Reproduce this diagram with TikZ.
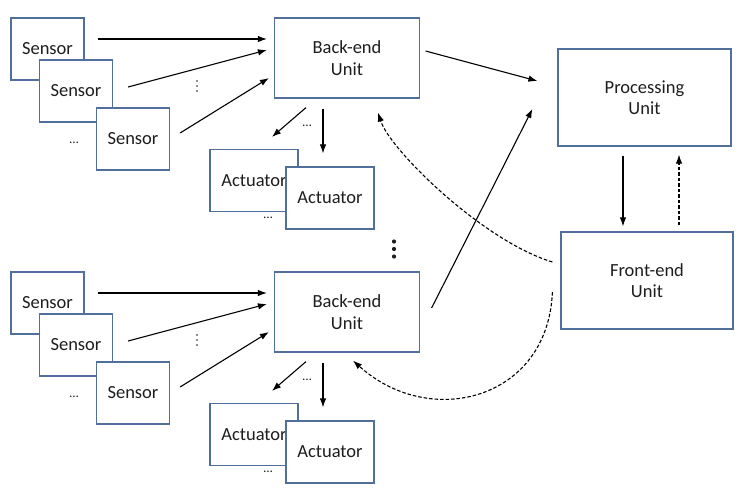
\documentclass[tikz,border=0pt]{standalone}
\usepackage{fontspec}
\setmainfont{Carlito}
\usetikzlibrary{arrows.meta}
\definecolor{boxc}{RGB}{80,112,155}
\definecolor{txt}{RGB}{30,30,30}
\begin{document}
\begin{tikzpicture}[x=1pt,y=-1pt,
  box/.style={draw=boxc,line width=1.2pt,fill=white,inner sep=0pt,text=txt,
    font=\fontsize{18.5}{21.5}\selectfont,align=center},
  sensorbox/.style={box,minimum width=73pt,minimum height=62pt},
  actbox/.style={box,minimum width=88pt,minimum height=62pt},
  bebox/.style={box,minimum width=145pt,minimum height=80pt},
  bigbox/.style={box,minimum width=173pt,minimum height=97pt},
  arr/.style={line width=1.1pt,-{Latex[length=9pt,width=6.5pt]}},
  darr/.style={arr,dash pattern=on 3.5pt off 2pt},
  dots/.style={text=txt,font=\fontsize{13}{13}\selectfont,inner sep=0pt}]
\useasboundingbox (0,0) rectangle (745,493);
\fill[white] (0,0) rectangle (745,493);

\foreach \g/\dy in {t/0,b/254}{
  \begin{scope}[yshift=-\dy pt]
    \node[sensorbox] (s1\g) at (47.5,49) {Sensor};
    \node[sensorbox] (s2\g) at (76,91) {Sensor};
    \node[sensorbox] (s3\g) at (133,139) {Sensor};
    \node[dots] (d1\g) at (74,143) {\dots};
    \node[bebox] (be\g) at (347,58) {Back-end\\Unit};
    \fill[txt] (197,81) circle (0.9) (197,86) circle (0.9) (197,91) circle (0.9);
    \node[actbox] (a1\g) at (254,180.5) {Actuator};
    \node[actbox] (a2\g) at (330,198) {Actuator};
    \node[dots] (d3\g) at (307,126) {\dots};
    \node[dots] (d4\g) at (268,218) {\dots};
    \draw[arr] ([shift={(13,-10)}]s1\g.east) -- ([shift={(-7,-19)}]be\g.west);
    \draw[arr] ([shift={(15,-4)}]s2\g.east) -- ([shift={(-7,-8)}]be\g.west);
    \draw[arr] ([shift={(10,-6)}]s3\g.east) -- ([shift={(-5,20)}]be\g.west);
    \draw[arr] ([shift={(-41,9)}]be\g.south) -- ([shift={(18,-12)}]a1\g.north);
    \draw[arr] ([shift={(-24,10)}]be\g.south) -- ([shift={(-7,-13)}]a2\g.north);
  \end{scope}
}

\node[bigbox] (proc) at (644.5,97.5) {Processing\\Unit};
\node[bigbox,minimum width=172pt] (fe) at (647,280.5) {Front-end\\Unit};

\fill[txt] (394,241.5) circle (2.1) (394,249) circle (2.1) (394,256.5) circle (2.1);

\draw[arr] ([shift={(5.5,-7)}]bet.east) -- ([shift={(-20,-16.5)}]proc.west);
\draw[arr] ([shift={(11.5,-4)}]beb.east) -- ([shift={(-25,11.5)}]proc.west);
\draw[arr] ([shift={(-21.5,9)}]proc.south) -- ([shift={(-24,-5)}]fe.north);
\draw[darr] ([shift={(32,-6)}]fe.north) -- ([shift={(34.5,8)}]proc.south);
\draw[darr] ([shift={(-8,-18.5)}]fe.west) .. controls (483,241) and (390,150) .. ([shift={(31,14)}]bet.south);
\draw[darr] ([shift={(-8,11.5)}]fe.west) .. controls (548,400) and (430,430) .. ([shift={(6,8)}]beb.south);
\end{tikzpicture}
\end{document}
